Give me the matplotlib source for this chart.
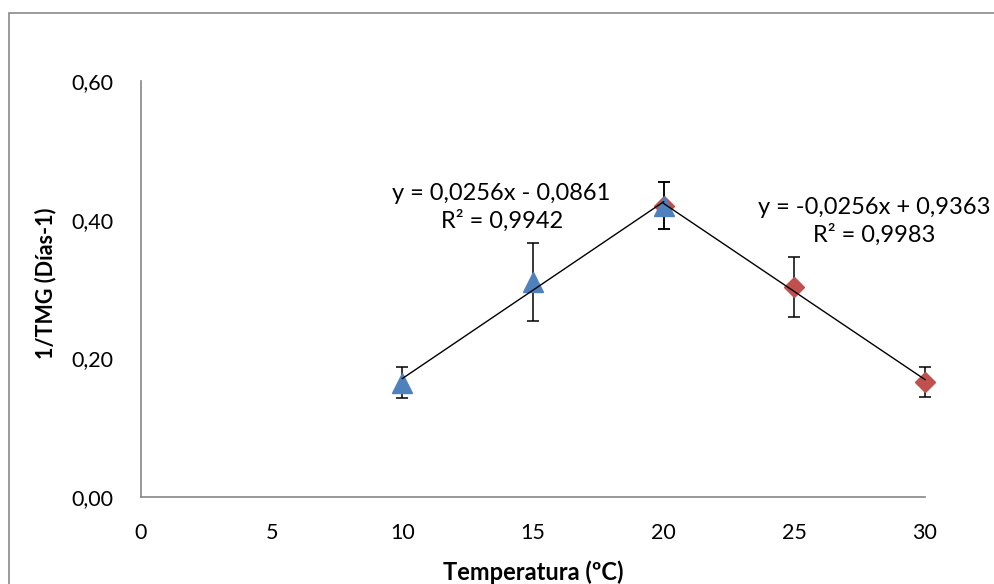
import matplotlib.pyplot as plt
import matplotlib.patches as patches
import numpy as np

# Data
temp_up = [10, 15, 20]
rate_up = [0.165, 0.31, 0.42]
err_up = [0.022, 0.056, 0.034]

temp_down = [20, 25, 30]
rate_down = [0.42, 0.303, 0.166]
err_down = [0.034, 0.043, 0.022]

eq_up = "y = 0,0256x - 0,0861\nR² = 0,9942"
eq_down = "y = -0,0256x + 0,9363\nR² = 0,9983"

x_ticks = [0, 5, 10, 15, 20, 25, 30]
y_ticks = [0.0, 0.2, 0.4, 0.6]

plt.rcParams["font.family"] = ["Lato", "DejaVu Sans"]

W, H = 995, 584
fig = plt.figure(figsize=(W / 100, H / 100), dpi=100)
ax = fig.add_axes([141 / W, 1 - 497 / H, (925 - 141) / W, (497 - 81) / H])

# outer chart border (runs off the right and bottom edges)
border = patches.Rectangle(
    (9 / W, -0.05), 1.1, 1.05 - 13 / H,
    transform=fig.transFigure, fill=False, edgecolor="#8a8a8a", linewidth=1.2,
)
fig.add_artist(border)

grey = "#868686"
blue = "#4F81BD"
red = "#C0504D"

# red diamonds first so the blue triangle sits on top at 20
eb_down = ax.errorbar(temp_down, rate_down, yerr=err_down, fmt="D", ms=9.7,
                      color=red, ecolor="black", elinewidth=1.1, capsize=4,
                      capthick=1.1, zorder=2)
eb_up = ax.errorbar(temp_up, rate_up, yerr=err_up, fmt="^", ms=14, color=blue,
                    ecolor="black", elinewidth=1.1, capsize=4, capthick=1.1,
                    zorder=3)
for eb in (eb_down, eb_up):
    for art in eb.get_children():
        art.set_clip_on(False)

# linear trend lines
for xs, ys in [(temp_up, rate_up), (temp_down, rate_down)]:
    k, b = np.polyfit(xs, ys, 1)
    xx = np.array([min(xs), max(xs)])
    ax.plot(xx, k * xx + b, color="black", linewidth=1.0, zorder=4,
            clip_on=False)

ax.text(13.8, 0.418, eq_up, ha="center", va="center", fontsize=17,
        linespacing=1.3)
ax.text(28.05, 0.397, eq_down, ha="center", va="center", fontsize=17,
        linespacing=1.3, clip_on=False)

ax.set_xlim(0, 30)
ax.set_ylim(0, 0.6)
ax.set_xticks(x_ticks)
ax.set_yticks(y_ticks)
ax.set_yticklabels([f"{v:.2f}".replace(".", ",") for v in y_ticks])
ax.tick_params(length=0, labelsize=15.5, colors="black")
ax.tick_params(axis="x", pad=19)
ax.tick_params(axis="y", pad=20)

for side in ["top", "right"]:
    ax.spines[side].set_visible(False)
for side in ["left", "bottom"]:
    ax.spines[side].set_color(grey)
    ax.spines[side].set_linewidth(1.2)

fig.text(533 / W, 1 - 572 / H, "Temperatura (ºC)", ha="center", va="center",
         fontsize=17, fontweight="bold")
fig.text(46 / W, 1 - 283 / H, "1/TMG (Días-1)", ha="center", va="center",
         rotation=90, fontsize=15.5, fontweight="bold")

fig.savefig("out.png", dpi=100)
